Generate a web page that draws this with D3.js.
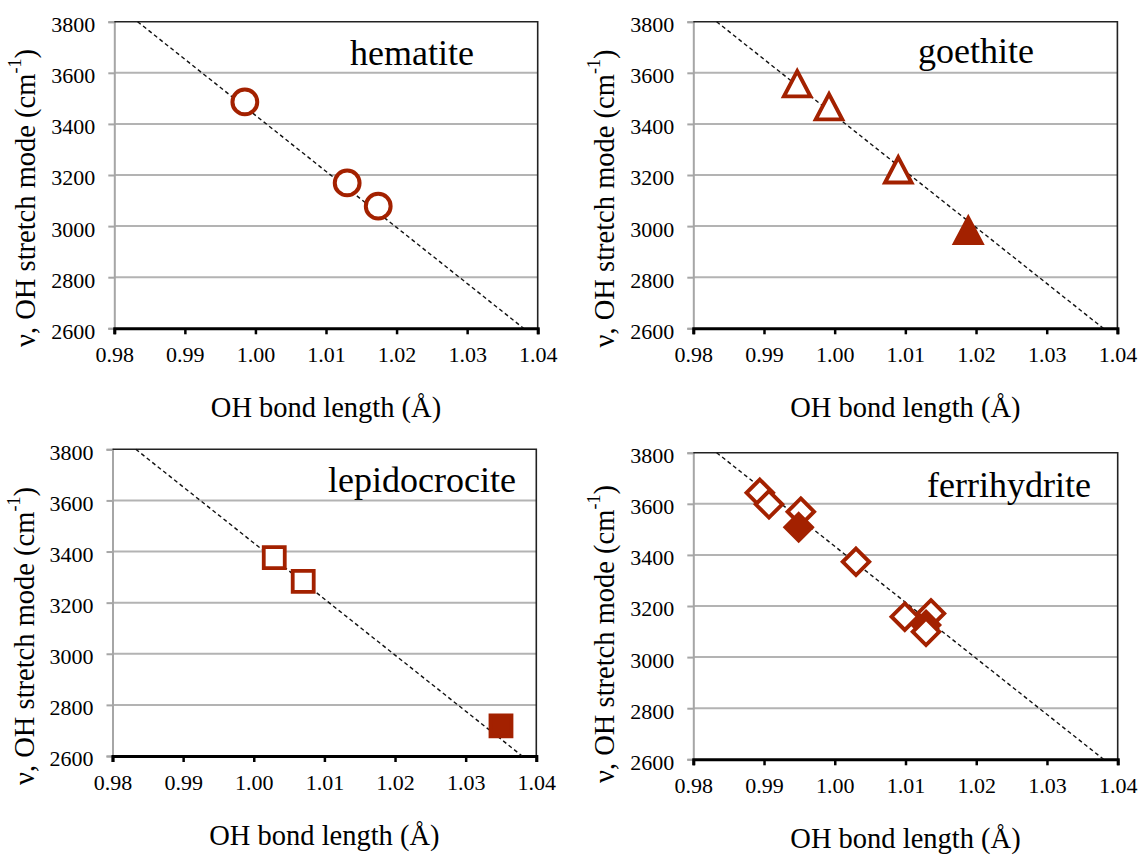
<!DOCTYPE html>
<html>
<head>
<meta charset="utf-8">
<script src="https://cdn.jsdelivr.net/npm/d3@7"></script>
<style>
  html, body { margin: 0; padding: 0; background: #fff; }
  svg { display: block; }
  svg text { font-family: "Liberation Serif", "Times New Roman", Times, serif; fill: #000; }
</style>
</head>
<body>
<svg id="chart" width="1139" height="855"></svg>
<script>
// OH bond length (Å) vs OH stretching frequency (cm-1) for four iron oxides

const xTicks = [0.98, 0.99, 1.00, 1.01, 1.02, 1.03, 1.04];
const yTicks = [2600, 2800, 3000, 3200, 3400, 3600, 3800];

// correlation line shared by all panels
const fitBond = [0.9833, 1.0380];
const fitFreq = [3800, 2600];

const hematiteBond = [0.9985, 1.0130, 1.0174];
const hematiteFreq = [3486, 3169, 3078];
const hematiteFilled = [false, false, false];

const goethiteBond = [0.9947, 0.9992, 1.0090, 1.0189];
const goethiteFreq = [3557, 3467, 3220, 2983];
const goethiteFilled = [false, false, false, true];

const lepidocrociteBond = [1.0029, 1.0070, 1.0350];
const lepidocrociteFreq = [3376, 3283, 2718];
const lepidocrociteFilled = [false, false, true];

const ferrihydriteBond = [0.9894, 0.9907, 0.9952, 1.0030, 1.0099, 1.0136, 0.9949, 1.0129, 1.0129];
const ferrihydriteFreq = [3643, 3598, 3569, 3373, 3158, 3171, 3508, 3126, 3099];
const ferrihydriteFilled = [false, false, false, false, false, false, true, true, false];

const RED = "#a32100";
const SERIF = "'Liberation Serif', 'Times New Roman', Times, serif";

// marker shapes
const triangleShape = {
  draw(ctx, size) {
    const s = Math.sqrt(size) / 2;
    ctx.moveTo(0, -s * 0.95);
    ctx.lineTo(s, s * 0.95);
    ctx.lineTo(-s, s * 0.95);
    ctx.closePath();
  }
};
const diamondShape = {
  draw(ctx, size) {
    const s = Math.sqrt(size) / 2;
    ctx.moveTo(0, -s);
    ctx.lineTo(s, 0);
    ctx.lineTo(0, s);
    ctx.lineTo(-s, 0);
    ctx.closePath();
  }
};

const panels = [
  { name: "hematite", bond: hematiteBond, freq: hematiteFreq, filled: hematiteFilled,
    type: d3.symbolCircle, size: Math.PI * 12.4 * 12.4, sw: 4,
    box: { l: 114.3, r: 537.7, t: 21.7, b: 328.3 }, nameX: 235.7, nameY: 43.3, titleMid: 176.3 },
  { name: "goethite", bond: goethiteBond, freq: goethiteFreq, filled: goethiteFilled,
    type: triangleShape, size: 26.5 * 26.5, sw: 3.9,
    box: { l: 693.3, r: 1117.4, t: 21.7, b: 328.3 }, nameX: 224.7, nameY: 41.6, titleMid: 176.8 },
  { name: "lepidocrocite", bond: lepidocrociteBond, freq: lepidocrociteFreq, filled: lepidocrociteFilled,
    type: d3.symbolSquare, size: 21 * 21, sw: 3.8,
    box: { l: 112.5, r: 536.3, t: 449.3, b: 756 }, nameX: 215.5, nameY: 42.4, titleMid: 186.7 },
  { name: "ferrihydrite", bond: ferrihydriteBond, freq: ferrihydriteFreq, filled: ferrihydriteFilled,
    type: diamondShape, size: 26.5 * 26.5, sw: 3.9,
    box: { l: 693.3, r: 1117.7, t: 452.7, b: 759.3 }, nameX: 233.7, nameY: 44, titleMid: 181.3 }
];

const svg = d3.select("#chart");

panels.forEach(p => {
  const { l, r, t, b } = p.box;
  const x = d3.scaleLinear().domain([0.98, 1.04]).range([l, r]);
  const y = d3.scaleLinear().domain([2600, 3800]).range([b, t]);
  const g = svg.append("g");

  // horizontal gridlines
  g.append("g")
    .selectAll("line")
    .data(yTicks.filter(v => v > 2600 && v < 3800))
    .join("line")
    .attr("x1", l).attr("x2", r)
    .attr("y1", d => y(d)).attr("y2", d => y(d))
    .attr("stroke", "#b3b3b3").attr("stroke-width", 2);

  // left axis (grey) with ticks and labels
  const yAxis = g.append("g")
    .attr("transform", `translate(${l},0)`)
    .call(d3.axisLeft(y).tickValues(yTicks).tickFormat(d3.format("d")).tickSizeOuter(0).tickSize(6).tickPadding(13));
  yAxis.attr("font-family", null).attr("font-size", null);
  yAxis.select(".domain").attr("stroke", "#a6a6a6").attr("stroke-width", 2);
  yAxis.selectAll(".tick line").attr("stroke", "#a6a6a6").attr("stroke-width", 2);
  yAxis.selectAll(".tick text")
    .style("font-family", SERIF)
    .style("font-size", "22px")
    .attr("dy", "0.45em")
    .attr("fill", "#000");

  // top and right frame
  g.append("path")
    .attr("d", `M${l},${t}H${r}V${b}`)
    .attr("fill", "none").attr("stroke", "#222").attr("stroke-width", 1.6);

  // bottom axis (black)
  const xAxis = g.append("g")
    .attr("transform", `translate(0,${b})`)
    .call(d3.axisBottom(x).tickValues(xTicks).tickFormat(d3.format(".2f")).tickSizeOuter(0).tickSize(6).tickPadding(12));
  xAxis.attr("font-family", null).attr("font-size", null);
  xAxis.select(".domain").attr("stroke", "#000").attr("stroke-width", 3);
  xAxis.selectAll(".tick line").attr("stroke", "#000").attr("stroke-width", 2.5);
  xAxis.selectAll(".tick text")
    .style("font-family", SERIF)
    .style("font-size", "22px")
    .attr("fill", "#000");

  // dashed correlation line
  const line = d3.line().x(d => x(d[0])).y(d => y(d[1]));
  g.append("path")
    .datum(d3.zip(fitBond, fitFreq))
    .attr("d", line)
    .attr("fill", "none")
    .attr("stroke", "#111")
    .attr("stroke-width", 1.4)
    .attr("stroke-dasharray", "4,3");

  // markers
  const pts = p.bond.map((v, i) => ({ bond: v, freq: p.freq[i], filled: p.filled[i] }));
  const sym = d3.symbol().type(p.type).size(p.size);
  g.append("g")
    .selectAll("path")
    .data(pts)
    .join("path")
    .attr("d", sym)
    .attr("transform", d => `translate(${x(d.bond)},${y(d.freq)})`)
    .attr("fill", d => d.filled ? RED : "#fff")
    .attr("stroke", RED)
    .attr("stroke-width", p.sw)
    .attr("stroke-linejoin", "miter");

  // panel name
  g.append("text")
    .attr("x", l + p.nameX)
    .attr("y", t + p.nameY)
    .style("font-family", SERIF)
    .style("font-size", "36px")
    .text(p.name);

  // axis titles
  g.append("text")
    .attr("x", (l + r) / 2)
    .attr("y", b + 89)
    .attr("text-anchor", "middle")
    .style("font-family", SERIF)
    .style("font-size", "28.5px")
    .text("OH bond length (Å)");

  const yt = g.append("text")
    .attr("transform", `translate(${l - 89},${t + p.titleMid}) rotate(-90)`)
    .attr("text-anchor", "middle")
    .attr("dominant-baseline", "central")
    .style("font-family", SERIF)
    .style("font-size", "28.5px");
  yt.append("tspan").text("ν, OH stretch mode (cm");
  yt.append("tspan").style("font-size", "18px").attr("dy", "-0.55em").text("-1");
  yt.append("tspan").attr("dy", "0.35em").text(")");
});
</script>
</body>
</html>
